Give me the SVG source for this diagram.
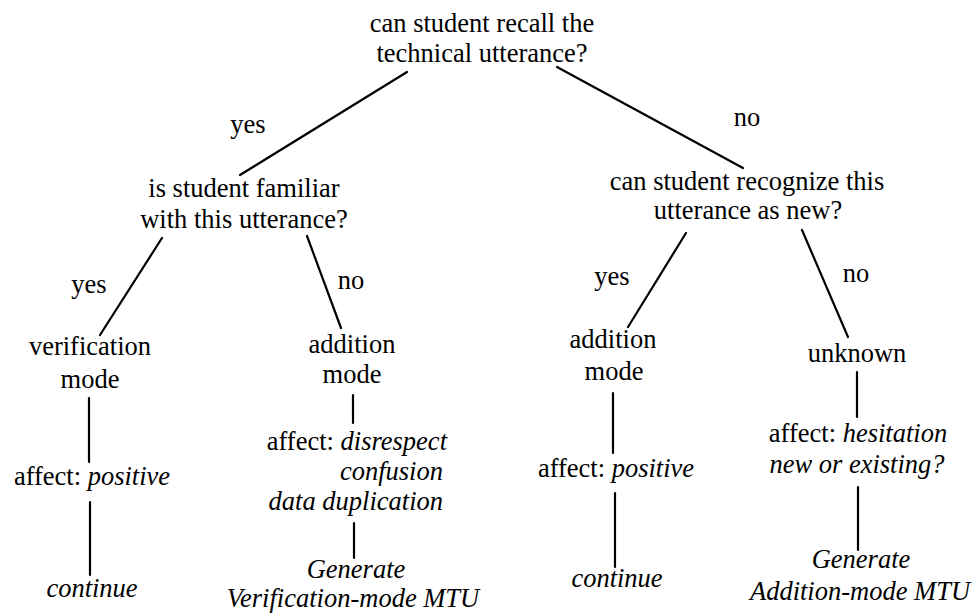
<svg xmlns="http://www.w3.org/2000/svg" width="976" height="613" viewBox="0 0 976 613">
<style>
text{font-family:"Liberation Serif","Times New Roman",serif;font-size:26.5px;fill:#000;text-anchor:middle}
.i{font-style:italic}
.e{text-anchor:end}
.c line{stroke:#000;stroke-width:2.2;stroke-linecap:round}
</style>
<rect width="976" height="613" fill="#fff"/>
<g class="c" id="connectors">
<line x1="407" y1="72" x2="240" y2="175"/>
<line x1="557" y1="67" x2="743" y2="168"/>
<line x1="162" y1="238" x2="100" y2="335"/>
<line x1="307" y1="236" x2="341" y2="328"/>
<line x1="686" y1="233" x2="628" y2="327"/>
<line x1="802" y1="230" x2="848" y2="337"/>
<line x1="89" y1="398" x2="89" y2="462"/>
<line x1="90" y1="502" x2="90" y2="575"/>
<line x1="353" y1="395" x2="353" y2="423"/>
<line x1="354" y1="523" x2="354" y2="558"/>
<line x1="613" y1="393" x2="613" y2="453"/>
<line x1="615" y1="493" x2="615" y2="567"/>
<line x1="857" y1="372" x2="857" y2="417"/>
<line x1="858" y1="487" x2="858" y2="550"/>
</g>
<g id="labels">
<text x="248" y="133">yes</text>
<text x="747" y="126">no</text>
<text x="89" y="293">yes</text>
<text x="351" y="289">no</text>
<text x="612" y="285">yes</text>
<text x="856" y="282">no</text>
</g>
<g id="root">
<text x="482" y="32">can student recall the</text>
<text x="482" y="62">technical utterance?</text>
</g>
<g id="familiar">
<text x="244" y="197">is student familiar</text>
<text x="244" y="228">with this utterance?</text>
</g>
<g id="recognize">
<text x="747" y="190">can student recognize this</text>
<text x="748" y="219">utterance as new?</text>
</g>
<g id="verification-mode">
<text x="90" y="355">verification</text>
<text x="90" y="388">mode</text>
</g>
<g id="affect-positive-1">
<text x="92" y="485">affect: <tspan class="i">positive</tspan></text>
</g>
<g id="continue-1">
<text class="i" x="92" y="597">continue</text>
</g>
<g id="addition-mode-1">
<text x="352" y="353">addition</text>
<text x="352" y="383">mode</text>
</g>
<g id="affect-disrespect">
<text class="e" x="447" y="450">affect: <tspan class="i">disrespect</tspan></text>
<text class="e i" x="443" y="480">confusion</text>
<text class="e i" x="443" y="510">data duplication</text>
</g>
<g id="generate-verification">
<text class="i" x="356" y="578">Generate</text>
<text class="i" x="353" y="607">Verification-mode MTU</text>
</g>
<g id="addition-mode-2">
<text x="613" y="348">addition</text>
<text x="614" y="380">mode</text>
</g>
<g id="affect-positive-2">
<text x="616" y="477">affect: <tspan class="i">positive</tspan></text>
</g>
<g id="continue-2">
<text class="i" x="617" y="587">continue</text>
</g>
<g id="unknown">
<text x="857" y="362">unknown</text>
</g>
<g id="affect-hesitation">
<text x="858" y="442">affect: <tspan class="i">hesitation</tspan></text>
<text class="i" x="857" y="473">new or existing?</text>
</g>
<g id="generate-addition">
<text class="i" x="861" y="568">Generate</text>
<text class="i" x="860" y="600">Addition-mode MTU</text>
</g>
</svg>
